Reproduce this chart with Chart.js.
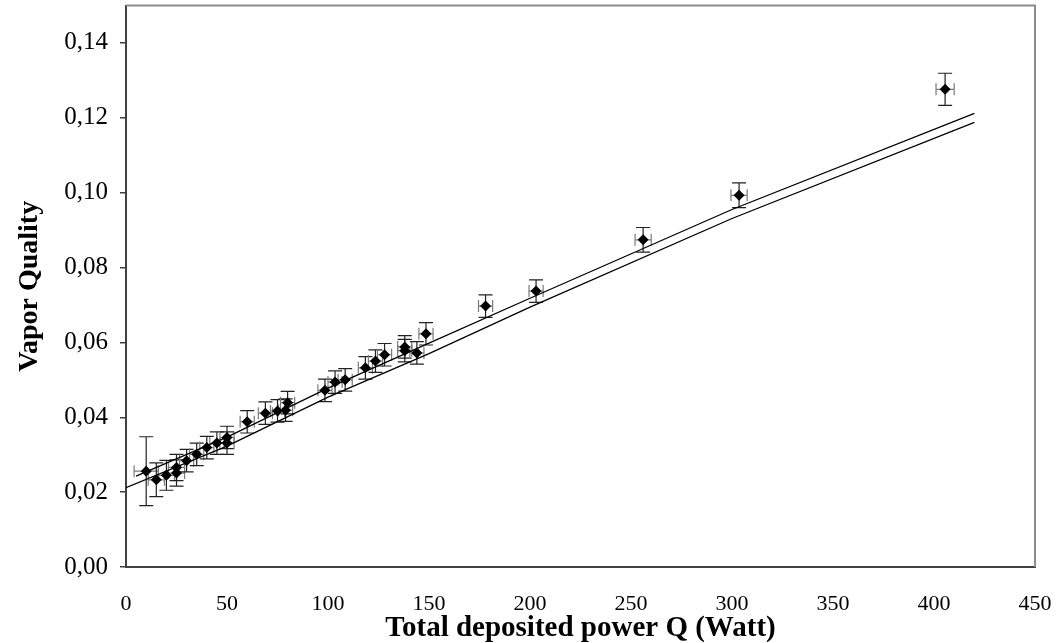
<!DOCTYPE html>
<html>
<head>
<meta charset="utf-8">
<script src="https://cdn.jsdelivr.net/npm/chart.js@4.4.1/dist/chart.umd.min.js"></script>
<style>
    body { margin: 0; background: #ffffff; }
    #wrap { width: 1056px; height: 643px; }
</style>
</head>
<body>
<div id="wrap"><canvas id="quality" width="1056" height="643"></canvas></div>
<script>
// measured points (power in W, vapor quality) and their error bars
var qPower = [10, 15, 20, 25, 25, 30, 35, 40, 45, 50, 50, 60, 69, 75, 79, 80,
    98.5, 103.5, 108.5, 118.5, 123.5, 128, 138, 138, 144, 148.5, 178, 203, 256, 303.5, 405.5];
var vaporQuality = [0.0256, 0.0233, 0.0245, 0.0266, 0.0251, 0.0284, 0.0301, 0.0319, 0.0331, 0.0346, 0.0331, 0.0388, 0.0411, 0.0417, 0.0419, 0.0439,
    0.0472, 0.0494, 0.0500, 0.0532, 0.0550, 0.0567, 0.0588, 0.0578, 0.0572, 0.0623, 0.0697, 0.0737, 0.0874, 0.0993, 0.1276];
var qError = [6, 4, 4, 4, 4, 3.5, 3.5, 3.5, 3.5, 3.5, 3.5, 3.5, 3.5, 3.5, 3.5, 3.5,
    3.5, 3.5, 3.5, 3.5, 3.5, 3.5, 3.5, 3.5, 3.5, 3.5, 3.5, 3.5, 4, 4, 4.5];
var qualityError = [0.0092, 0.0045, 0.004, 0.0035, 0.0035, 0.003, 0.003, 0.003, 0.003, 0.003, 0.003, 0.003, 0.003, 0.003, 0.003, 0.003,
    0.003, 0.003, 0.003, 0.003, 0.003, 0.003, 0.003, 0.003, 0.003, 0.003, 0.003, 0.003, 0.0033, 0.0033, 0.0043];

// the two model curves
var upperX = [5, 50, 100, 150, 200, 300, 420];
var upperY = [0.0243, 0.0347, 0.0478, 0.0598, 0.0718, 0.0955, 0.1212];
var lowerX = [0, 50, 100, 150, 200, 300, 420];
var lowerY = [0.0212, 0.0323, 0.0454, 0.0570, 0.0694, 0.0931, 0.1188];

var xTicks = [0, 50, 100, 150, 200, 250, 300, 350, 400, 450];
var yTicks = [0, 0.02, 0.04, 0.06, 0.08, 0.10, 0.12, 0.14];

function toPoints(xs, ys){
    return xs.map(function(x, i){ return {x: x, y: ys[i]}; });
}

// error bars go under the diamonds
var errorBars = {
    id: 'errorBars',
    beforeDatasetsDraw: function(chart){
        var ctx = chart.ctx;
        var sx = chart.scales.x;
        var sy = chart.scales.y;
        ctx.save();
        for (var i = 0; i < qPower.length; i++) {
            var px = sx.getPixelForValue(qPower[i]);
            var py = sy.getPixelForValue(vaporQuality[i]);
            var x1 = sx.getPixelForValue(qPower[i] - qError[i]);
            var x2 = sx.getPixelForValue(qPower[i] + qError[i]);
            var y1 = sy.getPixelForValue(vaporQuality[i] - qualityError[i]);
            var y2 = sy.getPixelForValue(vaporQuality[i] + qualityError[i]);
            ctx.strokeStyle = '#7a7a7a';
            ctx.lineWidth = 1.2;
            ctx.beginPath();
            ctx.moveTo(x1, py); ctx.lineTo(x2, py);
            ctx.moveTo(x1, py - 6); ctx.lineTo(x1, py + 6);
            ctx.moveTo(x2, py - 6); ctx.lineTo(x2, py + 6);
            ctx.stroke();
            ctx.strokeStyle = '#222222';
            ctx.beginPath();
            ctx.moveTo(px, y1); ctx.lineTo(px, y2);
            ctx.moveTo(px - 7, y1); ctx.lineTo(px + 7, y1);
            ctx.moveTo(px - 7, y2); ctx.lineTo(px + 7, y2);
            ctx.stroke();
        }
        ctx.restore();
    }
};

// grey frame on top and right of the plot
var frame = {
    id: 'frame',
    afterDraw: function(chart){
        var a = chart.chartArea;
        var ctx = chart.ctx;
        ctx.save();
        ctx.strokeStyle = '#8c8c8c';
        ctx.lineWidth = 2;
        ctx.beginPath();
        ctx.moveTo(a.left, a.top);
        ctx.lineTo(a.right, a.top);
        ctx.lineTo(a.right, a.bottom);
        ctx.stroke();
        ctx.restore();
    }
};

function noPadding(scale){
    scale.paddingLeft = 0;
    scale.paddingRight = 0;
    scale.paddingTop = 0;
    scale.paddingBottom = 0;
}

var ctx = document.getElementById('quality').getContext('2d');
var myChart = new Chart(ctx, {
    type: 'scatter',
    data: {
        datasets: [{
            label: 'measured',
            data: toPoints(qPower, vaporQuality),
            pointStyle: 'rectRot',
            pointRadius: 5.5,
            backgroundColor: '#000000',
            borderColor: '#000000',
            borderWidth: 0,
            order: 0
        }, {
            label: 'upper',
            data: toPoints(upperX, upperY),
            showLine: true,
            pointRadius: 0,
            borderColor: '#000000',
            borderWidth: 1.3,
            order: 1
        }, {
            label: 'lower',
            data: toPoints(lowerX, lowerY),
            showLine: true,
            pointRadius: 0,
            borderColor: '#000000',
            borderWidth: 1.3,
            order: 1
        }]
    },
    plugins: [errorBars, frame],
    options: {
        responsive: false,
        animation: false,
        devicePixelRatio: 1,
        layout: { padding: { top: 5, right: 21, left: 0, bottom: 0 } },
        plugins: {
            legend: { display: false },
            tooltip: { enabled: false }
        },
        scales: {
            x: {
                type: 'linear',
                min: 0,
                max: 450,
                afterBuildTicks: function(scale){
                    scale.ticks = xTicks.map(function(v){ return {value: v}; });
                },
                afterFit: function(scale){
                    scale.height = 76;
                    noPadding(scale);
                },
                grid: { display: false, drawTicks: false },
                border: { display: true, color: '#404040', width: 2 },
                ticks: {
                    color: '#000000',
                    padding: 24,
                    maxRotation: 0,
                    font: { family: 'Liberation Serif', size: 22 }
                },
                title: {
                    display: true,
                    text: 'Total deposited power Q (Watt)',
                    color: '#000000',
                    padding: { top: 0, bottom: 0 },
                    font: { family: 'Liberation Serif', size: 29, weight: 'bold', lineHeight: 1 }
                }
            },
            y: {
                type: 'linear',
                min: 0,
                max: 0.15,
                afterBuildTicks: function(scale){
                    scale.ticks = yTicks.map(function(v){ return {value: v}; });
                },
                afterFit: function(scale){
                    scale.width = 126;
                    noPadding(scale);
                },
                grid: { display: true, drawOnChartArea: false, drawTicks: true, tickLength: 6, color: '#404040', lineWidth: 1.5 },
                border: { display: true, color: '#404040', width: 2 },
                ticks: {
                    color: '#000000',
                    padding: 12,
                    font: { family: 'Liberation Serif', size: 25 },
                    callback: function(v){ return v.toFixed(2).replace('.', ','); }
                },
                title: {
                    display: true,
                    text: 'Vapor Quality',
                    color: '#000000',
                    padding: { top: 13, bottom: 0 },
                    font: { family: 'Liberation Serif', size: 28, weight: 'bold' }
                }
            }
        }
    }
});
</script>
</body>
</html>
